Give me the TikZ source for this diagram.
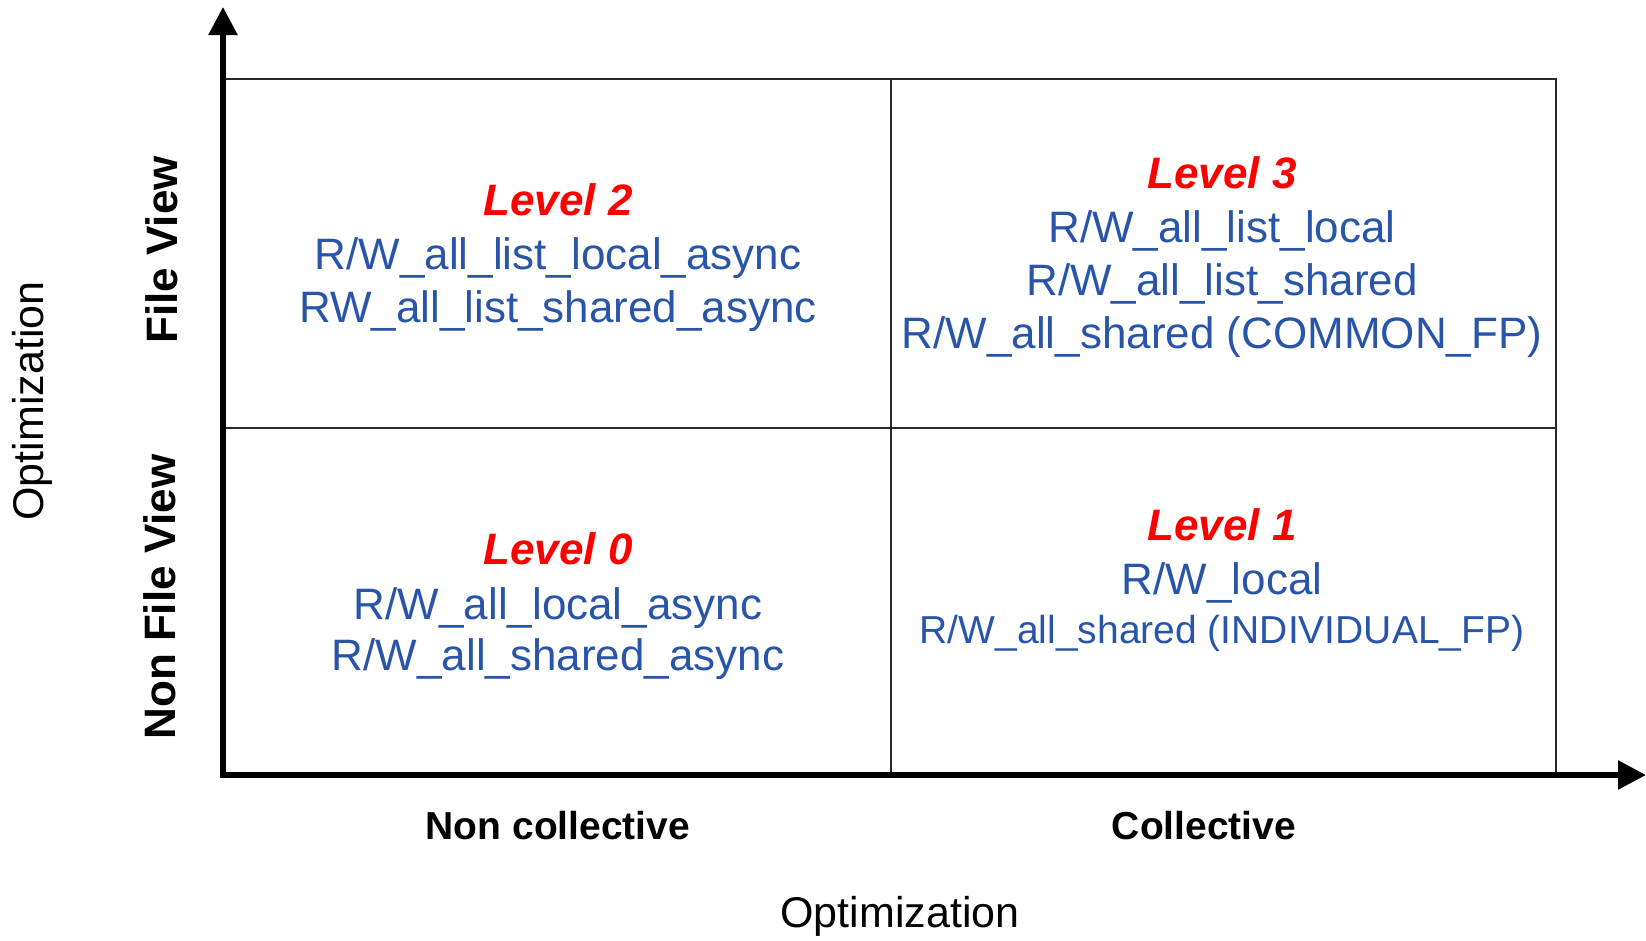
\documentclass[tikz,border=0pt]{standalone}
\usepackage{fontspec}
\setmainfont{Liberation Sans}
\usetikzlibrary{arrows.meta}
\definecolor{txtblue}{RGB}{40,85,170}
\definecolor{lvlred}{RGB}{255,0,0}
\definecolor{gridc}{RGB}{40,40,40}
\begin{document}
\begin{tikzpicture}[x=1pt,y=-1pt,
  gridline/.style={draw=gridc,line width=2},
  axisline/.style={draw=black,line width=5.5,-{Triangle[length=28,width=28]}},
  entry/.style={text=txtblue,font=\fontsize{44}{53}\selectfont,anchor=base,inner sep=0},
  entrysmall/.style={text=txtblue,font=\fontsize{39}{47}\selectfont,anchor=base,inner sep=0},
  level/.style={text=lvlred,font=\fontsize{44}{53}\selectfont\bfseries\itshape,anchor=base,inner sep=0},
  colhead/.style={font=\fontsize{39}{47}\selectfont\bfseries,anchor=base,inner sep=0},
  rowhead/.style={font=\fontsize{44}{53}\selectfont\bfseries,rotate=90,inner sep=0},
  axislabel/.style={font=\fontsize{43}{52}\selectfont,inner sep=0}]
\useasboundingbox (0,0) rectangle (1646,940);
% grid
\coordinate (tl) at (224,79);
\coordinate (br) at (1556,775);
\draw[gridline] (tl) rectangle (br);
\coordinate (mt) at (891,79);
\coordinate (mb) at (891,775);
\coordinate (ml) at (224,428);
\coordinate (mr) at (1556,428);
\draw[gridline] (mt) -- (mb);
\draw[gridline] (ml) -- (mr);
% axes
\coordinate (origin) at (223,777.5);
\coordinate (ytip) at (223,7);
\coordinate (xorigin) at (221,775);
\coordinate (xtip) at (1646,775);
\draw[axisline] (origin) -- (ytip);
\draw[axisline] (xorigin) -- (xtip);
% Level 2
\node[level] (l2) at (558,215) {Level 2};
\node[entry] (l2a) at (558,269) {R/W\_all\_list\_local\_async};
\node[entry] (l2b) at (558,322) {RW\_all\_list\_shared\_async};
% Level 3
\node[level] (l3) at (1222,188) {Level 3};
\node[entry] (l3a) at (1222,242) {R/W\_all\_list\_local};
\node[entry] (l3b) at (1222,295) {R/W\_all\_list\_shared};
\node[entry] (l3c) at (1222,348) {R/W\_all\_shared (COMMON\_FP)};
% Level 0
\node[level] (l0) at (558,564) {Level 0};
\node[entry] (l0a) at (558,619) {R/W\_all\_local\_async};
\node[entry] (l0b) at (558,670) {R/W\_all\_shared\_async};
% Level 1
\node[level] (l1) at (1222,540) {Level 1};
\node[entry] (l1a) at (1222,594) {R/W\_local};
\node[entrysmall] (l1b) at (1222,643) {R/W\_all\_shared (INDIVIDUAL\_FP)};
% column heads
\node[colhead] (nc) at (558,839) {Non collective};
\node[colhead] (co) at (1204,839) {Collective};
\node[axislabel] (optx) at (900,916) {Optimization};
% row heads
\node[rowhead] (fv) at (162,250) {File View};
\node[rowhead] (nfv) at (160,597) {Non File View};
\node[axislabel,rotate=90] (opty) at (32,401) {Optimization};
\end{tikzpicture}
\end{document}
